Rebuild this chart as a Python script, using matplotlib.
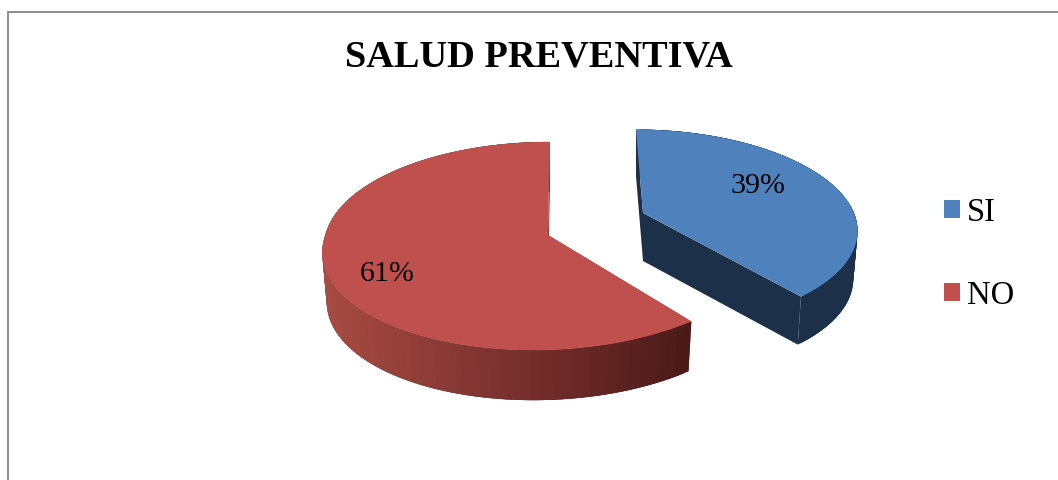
import numpy as np
import matplotlib
matplotlib.use('Agg')
import matplotlib.pyplot as plt
from matplotlib.collections import PolyCollection
from matplotlib.colors import LinearSegmentedColormap
from matplotlib.patches import Patch

title = 'SALUD PREVENTIVA'
categories = ['SI', 'NO']
percents = [39, 61]
top_colors = ['#4f81bd', '#c0504d']

# how each slice is seen: apex, radii, perspective, shear, thickness (in pixels)
views = [
    dict(ax=643, ay=213, rx=211, ry=96, k=0.15, s_up=0.084, s_down=0.07, depth=48, shrink=0.98),
    dict(ax=548, ay=235, rx=222.7, ry=103, k=0.106, s_up=-0.02, s_down=-0.13, depth=50, shrink=0.98),
]
label_pos = [(758, 186), (387, 274)]

plt.rcParams['font.family'] = ['Liberation Serif', 'DejaVu Serif']

blue_side = LinearSegmentedColormap.from_list('blue_side', ['#1c3049', '#1c3049'])
red_side = LinearSegmentedColormap.from_list('red_side', ['#a84b42', '#8a3a36', '#6c2a28', '#4a1a18'])
side_maps = [blue_side, red_side]


def project(view, t, lower=False):
    """
    Projects pie angles onto the picture.
    :param view: Slice view settings
    :param t: Angles, clockwise from 12 o'clock
    :param lower: True for the bottom face of the slice
    :return: x and y arrays
    """
    w = 1 + view['k'] * np.cos(t)
    dx = view['rx'] * np.sin(t) / w
    dy = -view['ry'] * np.cos(t) / w
    shear = np.where(dy < 0, view['s_up'], view['s_down'])
    x = dx + shear * dy
    y = dy
    if lower:
        x = x * view['shrink']
        y = y + view['depth']
    return view['ax'] + x, view['ay'] + y


fig = plt.figure(figsize=(10.58, 4.8), dpi=100)
ax = fig.add_axes([0, 0, 1, 1])
ax.set_xlim(0, 1058)
ax.set_ylim(480, 0)
ax.axis('off')

# chart frame, open on the right and at the bottom of the crop
ax.plot([8, 8, 1058], [480, 12, 12], color='#8f8f8f', lw=1.44, solid_joinstyle='miter')

edges = np.cumsum([0] + percents) / sum(percents) * 2 * np.pi

for i, view in enumerate(views):
    t = np.linspace(edges[i], edges[i + 1], 160)
    x_top, y_top = project(view, t)
    x_low, y_low = project(view, t, lower=True)
    apex = np.array([view['ax'], view['ay']])
    apex_low = apex + [0, view['depth']]

    # straight walls of the cut
    for j in (0, -1):
        wall = [(x_top[j], y_top[j]), apex, apex_low, (x_low[j], y_low[j])]
        wall_color = '#1c3049' if i == 0 else '#7a3230'
        ax.fill(*zip(*wall), color=wall_color, lw=0, zorder=2 if i == 0 or j == 0 else 1)

    # outer side, cut in overlapping strips so the shading can follow x
    quads = [[(x_top[n], y_top[n]), (x_top[n + 3], y_top[n + 3]),
              (x_low[n + 3], y_low[n + 3]), (x_low[n], y_low[n])] for n in range(len(t) - 3)]
    mid = x_low[:-3]
    side_colors = side_maps[i]((mid - mid.min()) / (mid.max() - mid.min()))
    ax.add_collection(PolyCollection(quads, facecolors=side_colors, edgecolors='none', zorder=3))

    # top face
    ax.fill(np.r_[apex[0], x_top], np.r_[apex[1], y_top], color=top_colors[i], lw=0, zorder=4)
    ax.text(*label_pos[i], f'{percents[i]}%', fontsize=21.6, ha='center', va='center', zorder=5)

ax.text(539, 57, title, fontsize=27.6, fontweight='bold', ha='center', va='center')

handles = [Patch(color=c, lw=0) for c in top_colors]
ax.legend(handles, categories, loc='center left', bbox_to_anchor=(944, 254),
          bbox_transform=ax.transData, frameon=False, fontsize=23.5,
          handlelength=0.49, handleheight=0.49, handletextpad=0.22,
          labelspacing=1.6, borderpad=0, borderaxespad=0)

fig.savefig('out.png', dpi=100)
